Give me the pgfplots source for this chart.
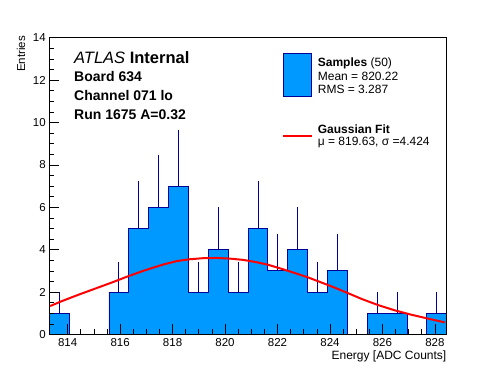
\documentclass[border=0pt]{standalone}
\usepackage{fontspec}
\setmainfont{Liberation Sans}
\usepackage{pgfplots}
\pgfplotsset{compat=1.18}
\definecolor{histfill}{RGB}{0,153,255}
\definecolor{histline}{RGB}{0,0,153}
\begin{document}
\begin{tikzpicture}[x=1pt,y=1pt]
\useasboundingbox (0,0) rectangle (496,372);
\begin{axis}[at={(49.3pt,37.5pt)}, anchor=south west, scale only axis,
  width=397.4pt, height=296.8pt,
  xmin=813.3, xmax=828.45, ymin=0, ymax=14,
  xtick={814,816,...,828}, ytick={0,2,...,14},
  minor x tick num=3, minor y tick num=3,
  tick pos=left, tick align=inside,
  major tick length=10pt, minor tick length=5pt,
  tick style={black, line width=0.7pt},
  axis line style={line width=0.8pt},
  axis on top,
  ticklabel style={font=\fontsize{11.5}{13}\selectfont},
  /pgf/number format/assume math mode=true,
  /pgf/number format/1000 sep={},
]
% histogram (bin edges, counts)
\addplot[const plot, fill=histfill, draw=histline, line width=0.8pt] coordinates {
(813.3000,1) (814.0575,0) (814.8150,0) (815.5725,2) (816.3300,5)
(817.0875,6) (817.8450,7) (818.6025,2) (819.3600,4) (820.1175,2)
(820.8750,5) (821.6325,3) (822.3900,4) (823.1475,2) (823.9050,3)
(824.6625,0) (825.4200,1) (826.1775,1) (826.9350,0) (827.6925,1)
(828.4500,1)} \closedcycle;
% error bars (sqrt N, upward)
\addplot[draw=none, mark=none,
  error bars/.cd, y dir=plus, y explicit, error mark=none,
  error bar style={draw=histline, solid, line width=0.8pt}]
  table[x=x, y=y, y error=e] {
x y e
813.679 1 1.000
815.951 2 1.414
816.709 5 2.236
817.466 6 2.449
818.224 7 2.646
818.981 2 1.414
819.739 4 2.000
820.496 2 1.414
821.254 5 2.236
822.011 3 1.732
822.769 4 2.000
823.526 2 1.414
824.284 3 1.732
825.799 1 1.000
826.556 1 1.000
828.071 1 1.000
};
% Gaussian fit curve
\addplot[red, line width=2pt, mark=none] coordinates {
(813.33,1.34) (813.77,1.57) (814.40,1.87) (815.04,2.16) (815.68,2.45)
(816.31,2.75) (816.95,3.03) (817.64,3.30) (818.15,3.46) (818.66,3.55)
(819.17,3.60) (819.68,3.61) (820.18,3.58) (820.69,3.52) (821.20,3.41)
(821.64,3.29) (822.15,3.10) (822.66,2.90) (823.17,2.69) (823.68,2.45)
(824.18,2.21) (824.69,1.95) (825.20,1.68) (825.83,1.39) (826.47,1.14)
(827.11,0.93) (827.74,0.75) (828.38,0.57)};
\end{axis}
% axis titles
\node[anchor=base east, inner sep=0, font=\fontsize{12}{14}\selectfont] at (446.5,12.7) {Energy [ADC Counts]};
\node[rotate=90, anchor=base east, inner sep=0, font=\fontsize{11.5}{13}\selectfont] at (25,336) {Entries};
% labels
\node[anchor=base west, inner sep=0, font=\fontsize{16.5}{19}\selectfont] at (74,308) {\textit{ATLAS} \textbf{Internal}};
\node[anchor=base west, inner sep=0, font=\fontsize{14}{16}\selectfont\bfseries] at (74,290.3) {Board 634};
\node[anchor=base west, inner sep=0, font=\fontsize{14}{16}\selectfont\bfseries] at (74,271.3) {Channel 071 lo};
\node[anchor=base west, inner sep=0, font=\fontsize{14}{16}\selectfont\bfseries] at (74,252) {Run 1675 A=0.32};
% legend
\filldraw[fill=histfill, draw=histline, line width=0.8pt] (283.3,275.3) rectangle (311.7,318.7);
\draw[red, line width=2pt] (283.3,236) -- (311.7,236);
\node[anchor=base west, inner sep=0, font=\fontsize{12}{14}\selectfont] at (317.7,305.3) {\textbf{Samples} (50)};
\node[anchor=base west, inner sep=0, font=\fontsize{12}{14}\selectfont] at (317.7,291) {Mean = 820.22};
\node[anchor=base west, inner sep=0, font=\fontsize{12}{14}\selectfont] at (317.7,278) {RMS = 3.287};
\node[anchor=base west, inner sep=0, font=\fontsize{12}{14}\selectfont] at (317.7,238.7) {\textbf{Gaussian Fit}};
\node[anchor=base west, inner sep=0, font=\fontsize{12}{14}\selectfont] at (317.7,226.7) {μ = 819.63, σ =4.424};
\end{tikzpicture}
\end{document}
